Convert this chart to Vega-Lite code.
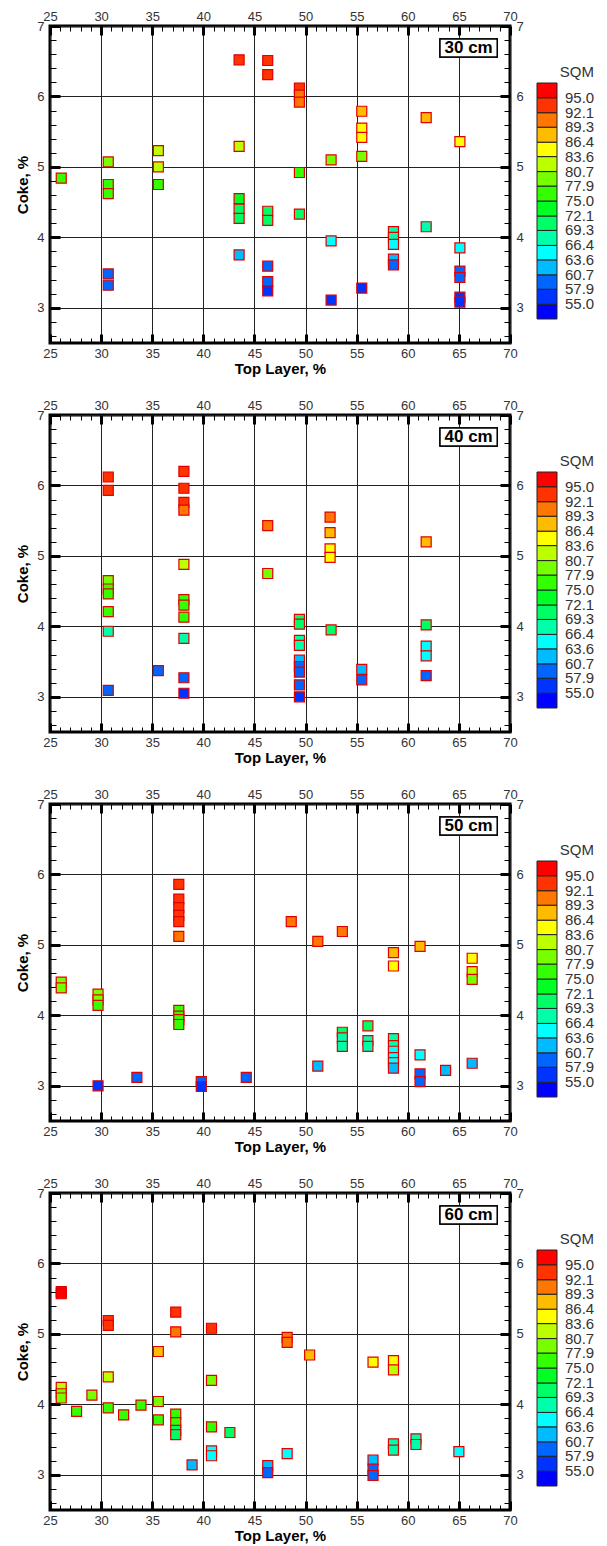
{
"$schema": "https://vega.github.io/schema/vega-lite/v6.json",
"background": "white",
"padding": {"left": 14, "top": 8, "right": 5, "bottom": 2},
"config": {
  "view": {"stroke": "black", "strokeWidth": 3},
  "axis": {"labelFont": "Liberation Sans", "labelFontSize": 13, "labelColor": "#333", "labelFlush": false, "labelOverlap": false, "domain": false, "ticks": true, "tickColor": "black", "titleFont": "Liberation Sans", "titleFontSize": 15, "titleFontWeight": "bold", "titleColor": "black", "gridColor": "#222", "gridWidth": 1},
  "legend": {"labelFont": "Liberation Sans", "labelFontSize": 15, "labelColor": "#333", "labelOverlap": false, "titleFont": "Liberation Sans", "titleFontSize": 15, "titleFontWeight": "normal", "titleColor": "#333"}
},
"datasets": {"pts": [
{"depth":30,"top":26.1,"coke":4.84,"sqm":76.5},
{"depth":30,"top":30.7,"coke":5.07,"sqm":79},
{"depth":30,"top":30.7,"coke":4.75,"sqm":76.5},
{"depth":30,"top":30.7,"coke":4.62,"sqm":76},
{"depth":30,"top":30.7,"coke":3.48,"sqm":59},
{"depth":30,"top":30.7,"coke":3.32,"sqm":58.5},
{"depth":30,"top":35.6,"coke":5.23,"sqm":82},
{"depth":30,"top":35.6,"coke":5.0,"sqm":81.5},
{"depth":30,"top":35.6,"coke":4.75,"sqm":76},
{"depth":30,"top":43.5,"coke":6.52,"sqm":93.5},
{"depth":30,"top":43.5,"coke":5.29,"sqm":82},
{"depth":30,"top":43.5,"coke":4.55,"sqm":74},
{"depth":30,"top":43.5,"coke":4.40,"sqm":71},
{"depth":30,"top":43.5,"coke":4.27,"sqm":70.5},
{"depth":30,"top":43.5,"coke":3.75,"sqm":62},
{"depth":30,"top":46.3,"coke":6.51,"sqm":93.5},
{"depth":30,"top":46.3,"coke":6.31,"sqm":93},
{"depth":30,"top":46.3,"coke":4.37,"sqm":70.5},
{"depth":30,"top":46.3,"coke":4.24,"sqm":70},
{"depth":30,"top":46.3,"coke":3.59,"sqm":59},
{"depth":30,"top":46.3,"coke":3.37,"sqm":58.5},
{"depth":30,"top":46.3,"coke":3.24,"sqm":56.5},
{"depth":30,"top":49.4,"coke":6.12,"sqm":93},
{"depth":30,"top":49.4,"coke":6.02,"sqm":91},
{"depth":30,"top":49.4,"coke":5.92,"sqm":90.5},
{"depth":30,"top":49.4,"coke":4.92,"sqm":76.5},
{"depth":30,"top":49.4,"coke":4.33,"sqm":70.5},
{"depth":30,"top":52.5,"coke":5.10,"sqm":79},
{"depth":30,"top":52.5,"coke":3.95,"sqm":65},
{"depth":30,"top":52.5,"coke":3.11,"sqm":56},
{"depth":30,"top":55.5,"coke":5.79,"sqm":88},
{"depth":30,"top":55.5,"coke":5.55,"sqm":85},
{"depth":30,"top":55.5,"coke":5.42,"sqm":84.5},
{"depth":30,"top":55.5,"coke":5.15,"sqm":79},
{"depth":30,"top":55.5,"coke":3.28,"sqm":56},
{"depth":30,"top":58.6,"coke":4.08,"sqm":67.5},
{"depth":30,"top":58.6,"coke":4.0,"sqm":68},
{"depth":30,"top":58.6,"coke":3.9,"sqm":64.5},
{"depth":30,"top":58.6,"coke":3.69,"sqm":62},
{"depth":30,"top":58.6,"coke":3.61,"sqm":59.5},
{"depth":30,"top":61.8,"coke":5.70,"sqm":88},
{"depth":30,"top":61.8,"coke":4.15,"sqm":67.5},
{"depth":30,"top":65.1,"coke":5.36,"sqm":85},
{"depth":30,"top":65.1,"coke":3.85,"sqm":65},
{"depth":30,"top":65.1,"coke":3.52,"sqm":59},
{"depth":30,"top":65.1,"coke":3.43,"sqm":58.5},
{"depth":30,"top":65.1,"coke":3.15,"sqm":56},
{"depth":30,"top":65.1,"coke":3.08,"sqm":56.5},
{"depth":40,"top":30.7,"coke":6.12,"sqm":93},
{"depth":40,"top":30.7,"coke":5.93,"sqm":93},
{"depth":40,"top":30.7,"coke":4.65,"sqm":79},
{"depth":40,"top":30.7,"coke":4.53,"sqm":77},
{"depth":40,"top":30.7,"coke":4.46,"sqm":76.5},
{"depth":40,"top":30.7,"coke":4.21,"sqm":76},
{"depth":40,"top":30.7,"coke":3.93,"sqm":68},
{"depth":40,"top":30.7,"coke":3.09,"sqm":59},
{"depth":40,"top":35.6,"coke":3.37,"sqm":58.5},
{"depth":40,"top":38.1,"coke":6.20,"sqm":93.5},
{"depth":40,"top":38.1,"coke":5.96,"sqm":93},
{"depth":40,"top":38.1,"coke":5.76,"sqm":92.5},
{"depth":40,"top":38.1,"coke":5.65,"sqm":91},
{"depth":40,"top":38.1,"coke":4.88,"sqm":82},
{"depth":40,"top":38.1,"coke":4.38,"sqm":76},
{"depth":40,"top":38.1,"coke":4.30,"sqm":76.5},
{"depth":40,"top":38.1,"coke":4.13,"sqm":75.5},
{"depth":40,"top":38.1,"coke":3.83,"sqm":68},
{"depth":40,"top":38.1,"coke":3.27,"sqm":59},
{"depth":40,"top":38.1,"coke":3.05,"sqm":56},
{"depth":40,"top":46.3,"coke":5.43,"sqm":90.5},
{"depth":40,"top":46.3,"coke":4.75,"sqm":79},
{"depth":40,"top":49.4,"coke":4.10,"sqm":71},
{"depth":40,"top":49.4,"coke":4.03,"sqm":70.5},
{"depth":40,"top":49.4,"coke":3.80,"sqm":68},
{"depth":40,"top":49.4,"coke":3.73,"sqm":67.5},
{"depth":40,"top":49.4,"coke":3.52,"sqm":62},
{"depth":40,"top":49.4,"coke":3.43,"sqm":59.5},
{"depth":40,"top":49.4,"coke":3.35,"sqm":59},
{"depth":40,"top":49.4,"coke":3.17,"sqm":58.5},
{"depth":40,"top":49.4,"coke":3.00,"sqm":56},
{"depth":40,"top":52.4,"coke":5.55,"sqm":90},
{"depth":40,"top":52.4,"coke":5.33,"sqm":88},
{"depth":40,"top":52.4,"coke":5.10,"sqm":85},
{"depth":40,"top":52.4,"coke":4.98,"sqm":84.5},
{"depth":40,"top":52.5,"coke":3.95,"sqm":70.5},
{"depth":40,"top":55.5,"coke":3.39,"sqm":62},
{"depth":40,"top":55.5,"coke":3.24,"sqm":59},
{"depth":40,"top":61.8,"coke":5.20,"sqm":87},
{"depth":40,"top":61.8,"coke":4.02,"sqm":70.5},
{"depth":40,"top":61.8,"coke":3.72,"sqm":65},
{"depth":40,"top":61.8,"coke":3.58,"sqm":64.5},
{"depth":40,"top":61.8,"coke":3.30,"sqm":59},
{"depth":50,"top":26.1,"coke":4.47,"sqm":79},
{"depth":50,"top":26.1,"coke":4.39,"sqm":79.5},
{"depth":50,"top":29.7,"coke":4.30,"sqm":79},
{"depth":50,"top":29.7,"coke":4.22,"sqm":78.5},
{"depth":50,"top":29.7,"coke":4.14,"sqm":77},
{"depth":50,"top":29.7,"coke":3.00,"sqm":56},
{"depth":50,"top":33.5,"coke":3.12,"sqm":59},
{"depth":50,"top":37.6,"coke":5.86,"sqm":93.5},
{"depth":50,"top":37.6,"coke":5.65,"sqm":93},
{"depth":50,"top":37.6,"coke":5.53,"sqm":93.5},
{"depth":50,"top":37.6,"coke":5.42,"sqm":93},
{"depth":50,"top":37.6,"coke":5.33,"sqm":92.5},
{"depth":50,"top":37.6,"coke":5.12,"sqm":90},
{"depth":50,"top":37.6,"coke":4.07,"sqm":76},
{"depth":50,"top":37.6,"coke":3.99,"sqm":75.5},
{"depth":50,"top":37.6,"coke":3.94,"sqm":76},
{"depth":50,"top":37.6,"coke":3.87,"sqm":75.5},
{"depth":50,"top":39.8,"coke":3.06,"sqm":59},
{"depth":50,"top":39.8,"coke":2.99,"sqm":56},
{"depth":50,"top":44.2,"coke":3.12,"sqm":59},
{"depth":50,"top":48.6,"coke":5.33,"sqm":90.5},
{"depth":50,"top":51.2,"coke":5.05,"sqm":90},
{"depth":50,"top":51.2,"coke":3.28,"sqm":62},
{"depth":50,"top":53.6,"coke":5.19,"sqm":90.5},
{"depth":50,"top":53.6,"coke":3.76,"sqm":69.5},
{"depth":50,"top":53.6,"coke":3.68,"sqm":68},
{"depth":50,"top":53.6,"coke":3.56,"sqm":67},
{"depth":50,"top":56.1,"coke":3.85,"sqm":70},
{"depth":50,"top":56.1,"coke":3.64,"sqm":68},
{"depth":50,"top":56.1,"coke":3.56,"sqm":67.5},
{"depth":50,"top":58.6,"coke":4.89,"sqm":87},
{"depth":50,"top":58.6,"coke":4.70,"sqm":85},
{"depth":50,"top":58.6,"coke":3.67,"sqm":67.5},
{"depth":50,"top":58.6,"coke":3.57,"sqm":67},
{"depth":50,"top":58.6,"coke":3.49,"sqm":65},
{"depth":50,"top":58.6,"coke":3.40,"sqm":64.5},
{"depth":50,"top":58.6,"coke":3.33,"sqm":64},
{"depth":50,"top":58.6,"coke":3.25,"sqm":62},
{"depth":50,"top":61.2,"coke":4.98,"sqm":87.5},
{"depth":50,"top":61.2,"coke":3.44,"sqm":64.5},
{"depth":50,"top":61.2,"coke":3.17,"sqm":59},
{"depth":50,"top":61.2,"coke":3.06,"sqm":58.5},
{"depth":50,"top":63.7,"coke":3.22,"sqm":62},
{"depth":50,"top":66.3,"coke":4.81,"sqm":85},
{"depth":50,"top":66.3,"coke":4.62,"sqm":81.5},
{"depth":50,"top":66.3,"coke":4.51,"sqm":79.5},
{"depth":50,"top":66.3,"coke":3.32,"sqm":62},
{"depth":60,"top":26.1,"coke":5.60,"sqm":95.5},
{"depth":60,"top":26.1,"coke":5.57,"sqm":95.2},
{"depth":60,"top":26.1,"coke":4.24,"sqm":81},
{"depth":60,"top":26.1,"coke":4.15,"sqm":79.5},
{"depth":60,"top":26.1,"coke":4.09,"sqm":79},
{"depth":60,"top":27.6,"coke":3.90,"sqm":76},
{"depth":60,"top":29.1,"coke":4.13,"sqm":79},
{"depth":60,"top":30.7,"coke":5.19,"sqm":93.5},
{"depth":60,"top":30.7,"coke":5.12,"sqm":93},
{"depth":60,"top":30.7,"coke":4.39,"sqm":81},
{"depth":60,"top":30.7,"coke":3.95,"sqm":76},
{"depth":60,"top":32.2,"coke":3.85,"sqm":76},
{"depth":60,"top":33.9,"coke":3.99,"sqm":76},
{"depth":60,"top":35.6,"coke":4.75,"sqm":87.5},
{"depth":60,"top":35.6,"coke":4.04,"sqm":79},
{"depth":60,"top":35.6,"coke":3.78,"sqm":76},
{"depth":60,"top":37.3,"coke":5.31,"sqm":93},
{"depth":60,"top":37.3,"coke":5.03,"sqm":90.5},
{"depth":60,"top":37.3,"coke":3.86,"sqm":76},
{"depth":60,"top":37.3,"coke":3.74,"sqm":75.5},
{"depth":60,"top":37.3,"coke":3.63,"sqm":71},
{"depth":60,"top":37.3,"coke":3.57,"sqm":70.5},
{"depth":60,"top":38.9,"coke":3.14,"sqm":62},
{"depth":60,"top":40.8,"coke":5.08,"sqm":93},
{"depth":60,"top":40.8,"coke":4.34,"sqm":79.5},
{"depth":60,"top":40.8,"coke":3.68,"sqm":76},
{"depth":60,"top":40.8,"coke":3.34,"sqm":65},
{"depth":60,"top":40.8,"coke":3.27,"sqm":64.5},
{"depth":60,"top":42.6,"coke":3.60,"sqm":70},
{"depth":60,"top":46.3,"coke":3.13,"sqm":62},
{"depth":60,"top":46.3,"coke":3.03,"sqm":58.5},
{"depth":60,"top":48.2,"coke":4.95,"sqm":90.5},
{"depth":60,"top":48.2,"coke":4.88,"sqm":90},
{"depth":60,"top":48.2,"coke":3.30,"sqm":64.5},
{"depth":60,"top":50.4,"coke":4.70,"sqm":87},
{"depth":60,"top":56.6,"coke":4.60,"sqm":85},
{"depth":60,"top":56.6,"coke":3.21,"sqm":62},
{"depth":60,"top":56.6,"coke":3.08,"sqm":59},
{"depth":60,"top":56.6,"coke":2.99,"sqm":58.5},
{"depth":60,"top":58.6,"coke":4.62,"sqm":85},
{"depth":60,"top":58.6,"coke":4.49,"sqm":82},
{"depth":60,"top":58.6,"coke":3.44,"sqm":68},
{"depth":60,"top":58.6,"coke":3.35,"sqm":67.5},
{"depth":60,"top":60.8,"coke":3.51,"sqm":67.5},
{"depth":60,"top":60.8,"coke":3.43,"sqm":67},
{"depth":60,"top":65.0,"coke":3.33,"sqm":65}
]},
"spacing": 19,
"resolve": {"scale": {"color": "independent"}},
"vconcat": [
{"width": 460, "height": 317, "resolve": {"axis": {"x": "independent", "y": "independent"}},
 "layer": [
  {"data": {"name": "pts"}, "transform": [{"filter": "datum.depth === 30"}],
   "mark": {"type": "square", "size": 100, "filled": true, "opacity": 1, "stroke": "#e00000", "strokeWidth": 1.2},
   "encoding": {
    "x": {"field": "top", "type": "quantitative", "scale": {"domain": [25, 70], "nice": false, "zero": false},
      "axis": {"orient": "bottom", "values": [25,30,35,40,45,50,55,60,65,70], "format": "d", "title": "Top Layer, %", "titlePadding": 1, "tickSize": -9, "tickWidth": 3, "labelPadding": 13, "grid": true}},
    "y": {"field": "coke", "type": "quantitative", "scale": {"domain": [2.5, 7], "nice": false, "zero": false},
      "axis": {"orient": "left", "values": [3,4,5,6,7], "format": "d", "title": "Coke, %", "titlePadding": 6, "tickSize": -10, "tickWidth": 3, "labelPadding": 16, "grid": true}},
    "color": {"field": "sqm", "type": "quantitative", "scale": {"type": "threshold", "domain": [55,57.9,60.7,63.6,66.4,69.3,72.1,75,77.9,80.7,83.6,86.4,89.3,92.1,95], "range": ["#0000ff","#0033ff","#0066ff","#00bbff","#00ffff","#00ffaa","#00ff66","#00ff22","#33ff00","#77ff00","#bbff00","#ffff00","#ffbb00","#ff7700","#ff3300","#ff0000"]},
      "legend": {"type": "gradient", "direction": "vertical", "orient": "none", "legendX": 487, "legendY": 39, "title": "SQM", "titleAnchor": "end", "titlePadding": 3, "gradientLength": 236, "gradientThickness": 20, "gradientStrokeColor": "#222", "gradientStrokeWidth": 1, "labelOffset": 8, "format": ".1f"}}
   }},
  {"data": {"values": [{"label": "30 cm"}]},
   "mark": {"type": "rect", "fill": "white", "stroke": "black", "strokeWidth": 1.5},
   "encoding": {
    "x": {"datum": 63.15, "type": "quantitative", "axis": {"orient": "top", "values": [25,30,35,40,45,50,55,60,65,70], "format": "d", "title": null, "tickSize": -9, "tickWidth": 3, "labelPadding": 12, "grid": false}},
    "x2": {"datum": 68.75},
    "y": {"datum": 6.815, "type": "quantitative", "axis": {"orient": "right", "values": [3,4,5,6,7], "format": "d", "title": null, "tickSize": -10, "tickWidth": 3, "labelPadding": 16, "grid": false}},
    "y2": {"datum": 6.56}
   }},
  {"data": {"values": [{"label": "30 cm"}]},
   "mark": {"type": "rect", "fill": "white", "stroke": "black", "strokeWidth": 1.5},
   "encoding": {
    "x": {"datum": 63.15, "type": "quantitative", "axis": {"orient": "top", "values": [26,27,28,29,31,32,33,34,36,37,38,39,41,42,43,44,46,47,48,49,51,52,53,54,56,57,58,59,61,62,63,64,66,67,68,69], "labels": false, "title": null, "tickSize": -5, "tickWidth": 1, "grid": false}},
    "x2": {"datum": 68.75},
    "y": {"datum": 6.815, "type": "quantitative", "axis": {"orient": "right", "values": [2.6,2.8,3.2,3.4,3.6,3.8,4.2,4.4,4.6,4.8,5.2,5.4,5.6,5.8,6.2,6.4,6.6,6.8], "labels": false, "title": null, "tickSize": -6, "tickWidth": 1, "grid": false}},
    "y2": {"datum": 6.56}
   }},
  {"data": {"values": [{"label": "30 cm"}]},
   "mark": {"type": "text", "font": "Liberation Sans", "fontSize": 17, "fontWeight": "bold", "color": "black"},
   "encoding": {
    "x": {"datum": 65.95, "type": "quantitative", "axis": {"orient": "bottom", "values": [26,27,28,29,31,32,33,34,36,37,38,39,41,42,43,44,46,47,48,49,51,52,53,54,56,57,58,59,61,62,63,64,66,67,68,69], "labels": false, "title": null, "tickSize": -5, "tickWidth": 1, "grid": false}},
    "y": {"datum": 6.69, "type": "quantitative", "axis": {"orient": "left", "values": [2.6,2.8,3.2,3.4,3.6,3.8,4.2,4.4,4.6,4.8,5.2,5.4,5.6,5.8,6.2,6.4,6.6,6.8], "labels": false, "title": null, "tickSize": -6, "tickWidth": 1, "grid": false}},
    "text": {"field": "label"}}}
 ]},
{"width": 460, "height": 317, "resolve": {"axis": {"x": "independent", "y": "independent"}},
 "layer": [
  {"data": {"name": "pts"}, "transform": [{"filter": "datum.depth === 40"}],
   "mark": {"type": "square", "size": 100, "filled": true, "opacity": 1, "stroke": "#e00000", "strokeWidth": 1.2},
   "encoding": {
    "x": {"field": "top", "type": "quantitative", "scale": {"domain": [25, 70], "nice": false, "zero": false},
      "axis": {"orient": "bottom", "values": [25,30,35,40,45,50,55,60,65,70], "format": "d", "title": "Top Layer, %", "titlePadding": 1, "tickSize": -9, "tickWidth": 3, "labelPadding": 13, "grid": true}},
    "y": {"field": "coke", "type": "quantitative", "scale": {"domain": [2.5, 7], "nice": false, "zero": false},
      "axis": {"orient": "left", "values": [3,4,5,6,7], "format": "d", "title": "Coke, %", "titlePadding": 6, "tickSize": -10, "tickWidth": 3, "labelPadding": 16, "grid": true}},
    "color": {"field": "sqm", "type": "quantitative", "scale": {"type": "threshold", "domain": [55,57.9,60.7,63.6,66.4,69.3,72.1,75,77.9,80.7,83.6,86.4,89.3,92.1,95], "range": ["#0000ff","#0033ff","#0066ff","#00bbff","#00ffff","#00ffaa","#00ff66","#00ff22","#33ff00","#77ff00","#bbff00","#ffff00","#ffbb00","#ff7700","#ff3300","#ff0000"]},
      "legend": {"type": "gradient", "direction": "vertical", "orient": "none", "legendX": 487, "legendY": 39, "title": "SQM", "titleAnchor": "end", "titlePadding": 3, "gradientLength": 236, "gradientThickness": 20, "gradientStrokeColor": "#222", "gradientStrokeWidth": 1, "labelOffset": 8, "format": ".1f"}}
   }},
  {"data": {"values": [{"label": "40 cm"}]},
   "mark": {"type": "rect", "fill": "white", "stroke": "black", "strokeWidth": 1.5},
   "encoding": {
    "x": {"datum": 63.15, "type": "quantitative", "axis": {"orient": "top", "values": [25,30,35,40,45,50,55,60,65,70], "format": "d", "title": null, "tickSize": -9, "tickWidth": 3, "labelPadding": 12, "grid": false}},
    "x2": {"datum": 68.75},
    "y": {"datum": 6.815, "type": "quantitative", "axis": {"orient": "right", "values": [3,4,5,6,7], "format": "d", "title": null, "tickSize": -10, "tickWidth": 3, "labelPadding": 16, "grid": false}},
    "y2": {"datum": 6.56}
   }},
  {"data": {"values": [{"label": "40 cm"}]},
   "mark": {"type": "rect", "fill": "white", "stroke": "black", "strokeWidth": 1.5},
   "encoding": {
    "x": {"datum": 63.15, "type": "quantitative", "axis": {"orient": "top", "values": [26,27,28,29,31,32,33,34,36,37,38,39,41,42,43,44,46,47,48,49,51,52,53,54,56,57,58,59,61,62,63,64,66,67,68,69], "labels": false, "title": null, "tickSize": -5, "tickWidth": 1, "grid": false}},
    "x2": {"datum": 68.75},
    "y": {"datum": 6.815, "type": "quantitative", "axis": {"orient": "right", "values": [2.6,2.8,3.2,3.4,3.6,3.8,4.2,4.4,4.6,4.8,5.2,5.4,5.6,5.8,6.2,6.4,6.6,6.8], "labels": false, "title": null, "tickSize": -6, "tickWidth": 1, "grid": false}},
    "y2": {"datum": 6.56}
   }},
  {"data": {"values": [{"label": "40 cm"}]},
   "mark": {"type": "text", "font": "Liberation Sans", "fontSize": 17, "fontWeight": "bold", "color": "black"},
   "encoding": {
    "x": {"datum": 65.95, "type": "quantitative", "axis": {"orient": "bottom", "values": [26,27,28,29,31,32,33,34,36,37,38,39,41,42,43,44,46,47,48,49,51,52,53,54,56,57,58,59,61,62,63,64,66,67,68,69], "labels": false, "title": null, "tickSize": -5, "tickWidth": 1, "grid": false}},
    "y": {"datum": 6.69, "type": "quantitative", "axis": {"orient": "left", "values": [2.6,2.8,3.2,3.4,3.6,3.8,4.2,4.4,4.6,4.8,5.2,5.4,5.6,5.8,6.2,6.4,6.6,6.8], "labels": false, "title": null, "tickSize": -6, "tickWidth": 1, "grid": false}},
    "text": {"field": "label"}}}
 ]},
{"width": 460, "height": 317, "resolve": {"axis": {"x": "independent", "y": "independent"}},
 "layer": [
  {"data": {"name": "pts"}, "transform": [{"filter": "datum.depth === 50"}],
   "mark": {"type": "square", "size": 100, "filled": true, "opacity": 1, "stroke": "#e00000", "strokeWidth": 1.2},
   "encoding": {
    "x": {"field": "top", "type": "quantitative", "scale": {"domain": [25, 70], "nice": false, "zero": false},
      "axis": {"orient": "bottom", "values": [25,30,35,40,45,50,55,60,65,70], "format": "d", "title": "Top Layer, %", "titlePadding": 1, "tickSize": -9, "tickWidth": 3, "labelPadding": 13, "grid": true}},
    "y": {"field": "coke", "type": "quantitative", "scale": {"domain": [2.5, 7], "nice": false, "zero": false},
      "axis": {"orient": "left", "values": [3,4,5,6,7], "format": "d", "title": "Coke, %", "titlePadding": 6, "tickSize": -10, "tickWidth": 3, "labelPadding": 16, "grid": true}},
    "color": {"field": "sqm", "type": "quantitative", "scale": {"type": "threshold", "domain": [55,57.9,60.7,63.6,66.4,69.3,72.1,75,77.9,80.7,83.6,86.4,89.3,92.1,95], "range": ["#0000ff","#0033ff","#0066ff","#00bbff","#00ffff","#00ffaa","#00ff66","#00ff22","#33ff00","#77ff00","#bbff00","#ffff00","#ffbb00","#ff7700","#ff3300","#ff0000"]},
      "legend": {"type": "gradient", "direction": "vertical", "orient": "none", "legendX": 487, "legendY": 39, "title": "SQM", "titleAnchor": "end", "titlePadding": 3, "gradientLength": 236, "gradientThickness": 20, "gradientStrokeColor": "#222", "gradientStrokeWidth": 1, "labelOffset": 8, "format": ".1f"}}
   }},
  {"data": {"values": [{"label": "50 cm"}]},
   "mark": {"type": "rect", "fill": "white", "stroke": "black", "strokeWidth": 1.5},
   "encoding": {
    "x": {"datum": 63.15, "type": "quantitative", "axis": {"orient": "top", "values": [25,30,35,40,45,50,55,60,65,70], "format": "d", "title": null, "tickSize": -9, "tickWidth": 3, "labelPadding": 12, "grid": false}},
    "x2": {"datum": 68.75},
    "y": {"datum": 6.815, "type": "quantitative", "axis": {"orient": "right", "values": [3,4,5,6,7], "format": "d", "title": null, "tickSize": -10, "tickWidth": 3, "labelPadding": 16, "grid": false}},
    "y2": {"datum": 6.56}
   }},
  {"data": {"values": [{"label": "50 cm"}]},
   "mark": {"type": "rect", "fill": "white", "stroke": "black", "strokeWidth": 1.5},
   "encoding": {
    "x": {"datum": 63.15, "type": "quantitative", "axis": {"orient": "top", "values": [26,27,28,29,31,32,33,34,36,37,38,39,41,42,43,44,46,47,48,49,51,52,53,54,56,57,58,59,61,62,63,64,66,67,68,69], "labels": false, "title": null, "tickSize": -5, "tickWidth": 1, "grid": false}},
    "x2": {"datum": 68.75},
    "y": {"datum": 6.815, "type": "quantitative", "axis": {"orient": "right", "values": [2.6,2.8,3.2,3.4,3.6,3.8,4.2,4.4,4.6,4.8,5.2,5.4,5.6,5.8,6.2,6.4,6.6,6.8], "labels": false, "title": null, "tickSize": -6, "tickWidth": 1, "grid": false}},
    "y2": {"datum": 6.56}
   }},
  {"data": {"values": [{"label": "50 cm"}]},
   "mark": {"type": "text", "font": "Liberation Sans", "fontSize": 17, "fontWeight": "bold", "color": "black"},
   "encoding": {
    "x": {"datum": 65.95, "type": "quantitative", "axis": {"orient": "bottom", "values": [26,27,28,29,31,32,33,34,36,37,38,39,41,42,43,44,46,47,48,49,51,52,53,54,56,57,58,59,61,62,63,64,66,67,68,69], "labels": false, "title": null, "tickSize": -5, "tickWidth": 1, "grid": false}},
    "y": {"datum": 6.69, "type": "quantitative", "axis": {"orient": "left", "values": [2.6,2.8,3.2,3.4,3.6,3.8,4.2,4.4,4.6,4.8,5.2,5.4,5.6,5.8,6.2,6.4,6.6,6.8], "labels": false, "title": null, "tickSize": -6, "tickWidth": 1, "grid": false}},
    "text": {"field": "label"}}}
 ]},
{"width": 460, "height": 317, "resolve": {"axis": {"x": "independent", "y": "independent"}},
 "layer": [
  {"data": {"name": "pts"}, "transform": [{"filter": "datum.depth === 60"}],
   "mark": {"type": "square", "size": 100, "filled": true, "opacity": 1, "stroke": "#e00000", "strokeWidth": 1.2},
   "encoding": {
    "x": {"field": "top", "type": "quantitative", "scale": {"domain": [25, 70], "nice": false, "zero": false},
      "axis": {"orient": "bottom", "values": [25,30,35,40,45,50,55,60,65,70], "format": "d", "title": "Top Layer, %", "titlePadding": 1, "tickSize": -9, "tickWidth": 3, "labelPadding": 13, "grid": true}},
    "y": {"field": "coke", "type": "quantitative", "scale": {"domain": [2.5, 7], "nice": false, "zero": false},
      "axis": {"orient": "left", "values": [3,4,5,6,7], "format": "d", "title": "Coke, %", "titlePadding": 6, "tickSize": -10, "tickWidth": 3, "labelPadding": 16, "grid": true}},
    "color": {"field": "sqm", "type": "quantitative", "scale": {"type": "threshold", "domain": [55,57.9,60.7,63.6,66.4,69.3,72.1,75,77.9,80.7,83.6,86.4,89.3,92.1,95], "range": ["#0000ff","#0033ff","#0066ff","#00bbff","#00ffff","#00ffaa","#00ff66","#00ff22","#33ff00","#77ff00","#bbff00","#ffff00","#ffbb00","#ff7700","#ff3300","#ff0000"]},
      "legend": {"type": "gradient", "direction": "vertical", "orient": "none", "legendX": 487, "legendY": 39, "title": "SQM", "titleAnchor": "end", "titlePadding": 3, "gradientLength": 236, "gradientThickness": 20, "gradientStrokeColor": "#222", "gradientStrokeWidth": 1, "labelOffset": 8, "format": ".1f"}}
   }},
  {"data": {"values": [{"label": "60 cm"}]},
   "mark": {"type": "rect", "fill": "white", "stroke": "black", "strokeWidth": 1.5},
   "encoding": {
    "x": {"datum": 63.15, "type": "quantitative", "axis": {"orient": "top", "values": [25,30,35,40,45,50,55,60,65,70], "format": "d", "title": null, "tickSize": -9, "tickWidth": 3, "labelPadding": 12, "grid": false}},
    "x2": {"datum": 68.75},
    "y": {"datum": 6.815, "type": "quantitative", "axis": {"orient": "right", "values": [3,4,5,6,7], "format": "d", "title": null, "tickSize": -10, "tickWidth": 3, "labelPadding": 16, "grid": false}},
    "y2": {"datum": 6.56}
   }},
  {"data": {"values": [{"label": "60 cm"}]},
   "mark": {"type": "rect", "fill": "white", "stroke": "black", "strokeWidth": 1.5},
   "encoding": {
    "x": {"datum": 63.15, "type": "quantitative", "axis": {"orient": "top", "values": [26,27,28,29,31,32,33,34,36,37,38,39,41,42,43,44,46,47,48,49,51,52,53,54,56,57,58,59,61,62,63,64,66,67,68,69], "labels": false, "title": null, "tickSize": -5, "tickWidth": 1, "grid": false}},
    "x2": {"datum": 68.75},
    "y": {"datum": 6.815, "type": "quantitative", "axis": {"orient": "right", "values": [2.6,2.8,3.2,3.4,3.6,3.8,4.2,4.4,4.6,4.8,5.2,5.4,5.6,5.8,6.2,6.4,6.6,6.8], "labels": false, "title": null, "tickSize": -6, "tickWidth": 1, "grid": false}},
    "y2": {"datum": 6.56}
   }},
  {"data": {"values": [{"label": "60 cm"}]},
   "mark": {"type": "text", "font": "Liberation Sans", "fontSize": 17, "fontWeight": "bold", "color": "black"},
   "encoding": {
    "x": {"datum": 65.95, "type": "quantitative", "axis": {"orient": "bottom", "values": [26,27,28,29,31,32,33,34,36,37,38,39,41,42,43,44,46,47,48,49,51,52,53,54,56,57,58,59,61,62,63,64,66,67,68,69], "labels": false, "title": null, "tickSize": -5, "tickWidth": 1, "grid": false}},
    "y": {"datum": 6.69, "type": "quantitative", "axis": {"orient": "left", "values": [2.6,2.8,3.2,3.4,3.6,3.8,4.2,4.4,4.6,4.8,5.2,5.4,5.6,5.8,6.2,6.4,6.6,6.8], "labels": false, "title": null, "tickSize": -6, "tickWidth": 1, "grid": false}},
    "text": {"field": "label"}}}
 ]}
]
}
